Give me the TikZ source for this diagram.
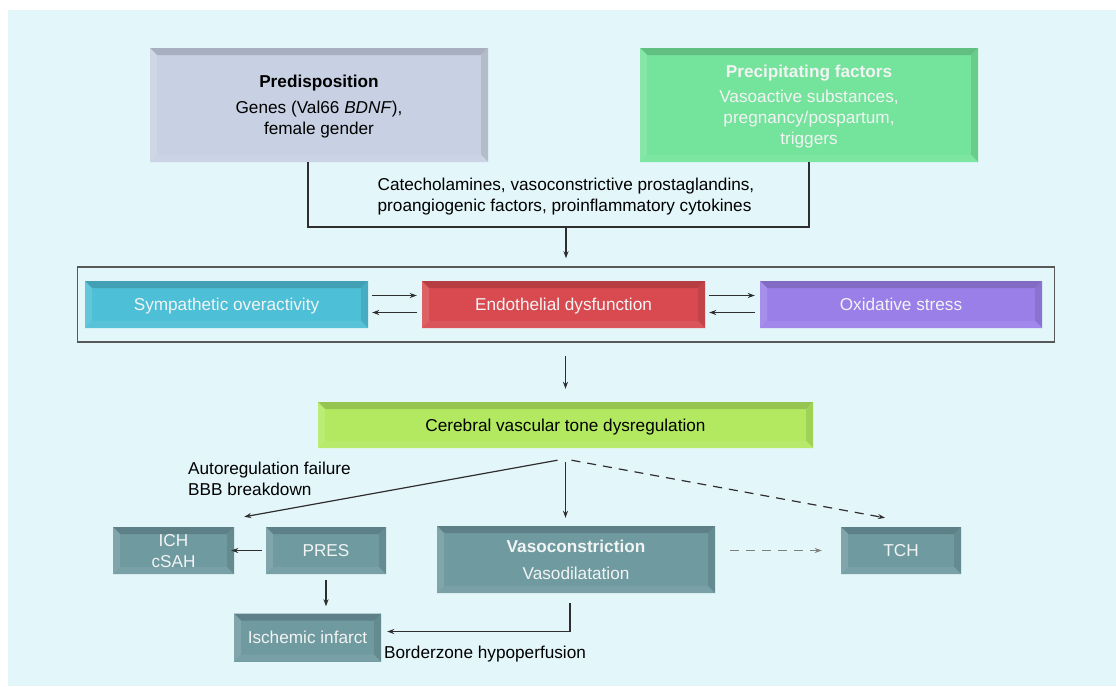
\documentclass[tikz,border=0pt]{standalone}
\usepackage{fontspec}
\setmainfont{Liberation Sans}
\usetikzlibrary{arrows.meta}

\definecolor{bgcyan}{HTML}{E3F6F9}
\definecolor{predisfill}{HTML}{C8D1E3}
\definecolor{precipfill}{HTML}{74E39B}
\definecolor{sympfill}{HTML}{4DBFD6}
\definecolor{endofill}{HTML}{D84A50}
\definecolor{oxidfill}{HTML}{9A7FE8}
\definecolor{cvtdfill}{HTML}{B2E960}
\definecolor{tealfill}{HTML}{6F9AA0}
\definecolor{linegray}{HTML}{2E2E2E}
\definecolor{lighttext}{HTML}{F2F4F4}

\def\bw{7}

\tikzset{
  bevel/.style={fill=#1, draw=none, inner sep=0pt, align=center, text depth=0pt,
    path picture={
      \coordinate (bnw) at (path picture bounding box.north west);
      \coordinate (bne) at (path picture bounding box.north east);
      \coordinate (bsw) at (path picture bounding box.south west);
      \coordinate (bse) at (path picture bounding box.south east);
      \fill[#1!84!black] (bnw) -- (bne) -- ([shift={(-\bw,\bw)}]bne) -- ([shift={(\bw,\bw)}]bnw) -- cycle;
      \fill[#1!90!black] (bne) -- (bse) -- ([shift={(-\bw,-\bw)}]bse) -- ([shift={(-\bw,\bw)}]bne) -- cycle;
      \fill[#1!94!white] (bsw) -- (bse) -- ([shift={(-\bw,-\bw)}]bse) -- ([shift={(\bw,-\bw)}]bsw) -- cycle;
      \fill[#1!88!white] (bnw) -- (bsw) -- ([shift={(\bw,-\bw)}]bsw) -- ([shift={(\bw,\bw)}]bnw) -- cycle;
    }},
  darkbox/.style={bevel=#1, text=black},
  lightbox/.style={bevel=#1, text=lighttext},
  conn/.style={draw=linegray, line width=1.2pt},
  label/.style={align=left, inner sep=0pt, text=black},
}

\begin{document}
\begin{tikzpicture}[x=1pt, y=-1pt, font=\fontsize{17.2}{21}\selectfont,
    >={Stealth[length=7pt,width=5pt]}]
  \useasboundingbox (0,0) rectangle (1116,686);
  \fill[bgcyan] (8,10) rectangle (1116,686);

  % top row
  \node[darkbox=predisfill, minimum width=338, minimum height=114] (predis) at (319,105)
    {\textbf{Predisposition}\\[5pt] Genes (Val66 \textit{BDNF}),\\ female gender};
  \node[lightbox=precipfill, minimum width=338, minimum height=114] (precip) at (809,105)
    {\textbf{Precipitating factors}\\[4pt] Vasoactive substances,\\ pregnancy/pospartum,\\ triggers};

  \coordinate (join) at (566,227);
  \draw[conn] ([xshift=-11]predis.south) |- (join) -| (precip.south);
  \node[label] (cate) at (566,197)
    {Catecholamines, vasoconstrictive prostaglandins,\\ proangiogenic factors, proinflammatory cytokines};

  % middle frame
  \node[draw=linegray!80, line width=1.5pt, fill=bgcyan, minimum width=977, minimum height=75] (frame) at (566,304.5) {};
  \draw[conn, ->, shorten >=8pt] (join) -- (frame.north);

  \node[lightbox=sympfill, minimum width=283, minimum height=47] (symp) at (226.5,304.5) {Sympathetic overactivity};
  \node[lightbox=endofill, minimum width=283, minimum height=47] (endo) at (563.5,304.5) {Endothelial dysfunction};
  \node[lightbox=oxidfill, minimum width=282, minimum height=47] (oxid) at (901,304.5) {Oxidative stress};

  \draw[conn, ->] ([shift={(4,-9)}]symp.east) -- ([shift={(-5,-9)}]endo.west);
  \draw[conn, ->] ([shift={(-5,8)}]endo.west) -- ([shift={(4,8)}]symp.east);
  \draw[conn, ->] ([shift={(4,-9)}]endo.east) -- ([shift={(-5,-9)}]oxid.west);
  \draw[conn, ->] ([shift={(-5,8)}]oxid.west) -- ([shift={(4,8)}]endo.east);

  % dysregulation
  \node[darkbox=cvtdfill, minimum width=495, minimum height=46] (cvtd) at (565.5,425) {Cerebral vascular tone dysregulation};
  \draw[conn, ->, shorten <=13pt, shorten >=13pt] (frame.south -| cvtd.north) -- (cvtd.north);

  % bottom row
  \node[lightbox=tealfill, minimum width=121, minimum height=47] (ich) at (173.5,550.5) {ICH\\ cSAH};
  \node[lightbox=tealfill, minimum width=120, minimum height=47] (pres) at (326,550.5) {PRES};
  \node[lightbox=tealfill, minimum width=147, minimum height=48] (infarct) at (307.5,637.5) {Ischemic infarct};
  \node[lightbox=tealfill, minimum width=278, minimum height=67] (vaso) at (576,559.5)
    {\textbf{Vasoconstriction}\\[6pt] Vasodilatation};
  \node[lightbox=tealfill, minimum width=120, minimum height=47] (tch) at (901,550.5) {TCH};

  \coordinate (apex) at ([shift={(-8,12)}]cvtd.south);
  \coordinate (apexr) at ([shift={(6,12)}]cvtd.south);
  \draw[conn, ->] (apex) -- ([shift={(10,-10)}]ich.north east);
  \draw[conn, ->, shorten >=8pt] ([shift={(0,14)}]cvtd.south) -- (cvtd.south |- vaso.north);
  \draw[conn, ->, dash pattern=on 9pt off 7pt] (apexr) -- ([shift={(-16,-9)}]tch.north);
  \draw[conn, ->, draw=gray, dash pattern=on 9pt off 7pt] ([xshift=15]vaso.east |- tch.west) -- ([xshift=-19]tch.west);

  \draw[conn, ->] ([xshift=-4]pres.west) -- ([xshift=-3]ich.east);
  \draw[conn, ->, shorten <=6pt, shorten >=7pt] (pres.south) -- (infarct.north -| pres.south);
  \draw[conn, ->] ([shift={(-6,10)}]vaso.south) |- ([shift={(6,-6)}]infarct.east);

  \node[label, anchor=west] (autoreg) at (188,479) {Autoregulation failure\\ BBB breakdown};
  \node[label, anchor=west] (border) at (384,654) {Borderzone hypoperfusion};
\end{tikzpicture}
\end{document}
